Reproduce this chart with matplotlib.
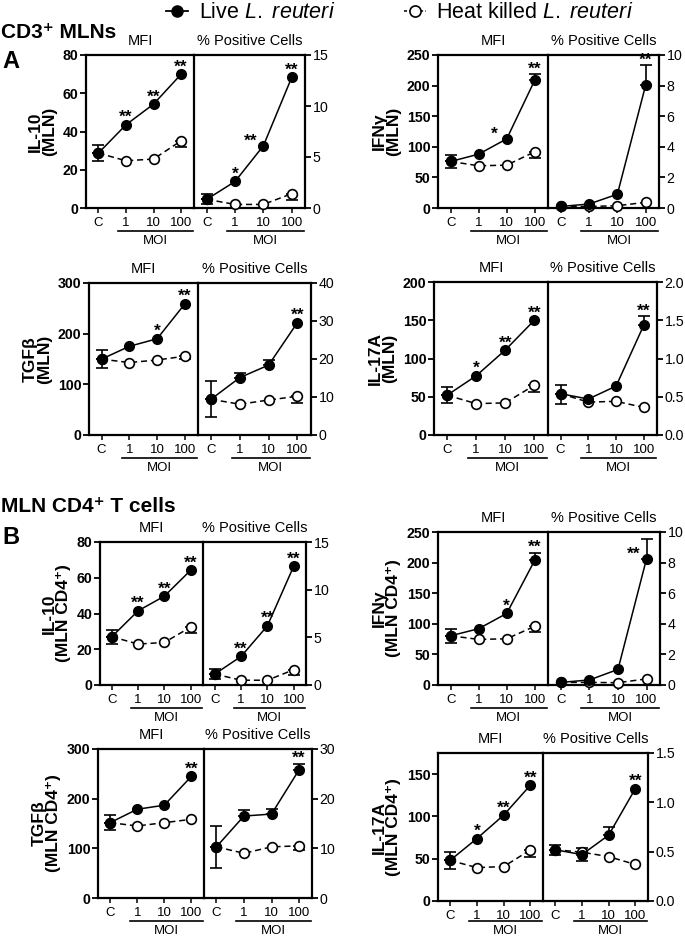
import numpy as np
import matplotlib
matplotlib.use("Agg")
import matplotlib.pyplot as plt
from matplotlib.lines import Line2D
from matplotlib.transforms import offset_copy

plt.rcParams['font.family'] = ['Liberation Sans', 'DejaVu Sans']
plt.rcParams['mathtext.fontset'] = 'custom'
plt.rcParams['mathtext.rm'] = 'Liberation Sans'
plt.rcParams['mathtext.it'] = 'Liberation Sans:italic'
plt.rcParams['mathtext.bf'] = 'Liberation Sans:bold'

doses = ["C", "1", "10", "100"]

# A : CD3+ MLN cells  (live / heat killed, upper err for live, lower err for heat killed)
a_il10_mfi = dict(live=[28.7, 43.5, 54.3, 69.9], hk=[28.7, 24.7, 25.6, 35.1],
                  up=[4, 0, 0, 0], down=[4, 0, 0, 3.4], stars=["", "**", "**", "**"])
a_il10_pct = dict(live=[0.85, 2.6, 6.1, 12.8], hk=[0.85, 0.35, 0.35, 1.4],
                  up=[0.55, 0, 0, 0], down=[0.5, 0, 0, 0.6], stars=["", "*", "**", "**"], left=[2])
a_ifng_mfi = dict(live=[76, 88, 113, 209], hk=[76, 69, 70, 92],
                  up=[10, 0, 0, 10], down=[10, 0, 0, 10], stars=["", "", "*", "**"], left=[2])
a_ifng_pct = dict(live=[0.1, 0.26, 0.9, 8.04], hk=[0.1, 0.1, 0.15, 0.37],
                  up=[0, 0, 0, 1.3], down=[0, 0, 0, 0], stars=["", "", "", "**"])
a_tgfb_mfi = dict(live=[149.7, 175, 190, 259], hk=[149.7, 143, 148, 155.6],
                  up=[18, 0, 0, 0], down=[18, 0, 0, 5], stars=["", "", "*", "**"])
a_tgfb_pct = dict(live=[9.4, 15.1, 18.4, 29.6], hk=[9.4, 8.1, 9.2, 10.2],
                  up=[4.8, 1.3, 1.3, 0], down=[4.6, 0, 0, 1.7], stars=["", "", "", "**"])
a_il17_mfi = dict(live=[52, 77.4, 111, 150], hk=[52, 41, 42, 65],
                  up=[10.5, 0, 0, 0], down=[10.5, 0, 0, 9.4], stars=["", "*", "**", "**"])
a_il17_pct = dict(live=[0.54, 0.47, 0.64, 1.44], hk=[0.54, 0.43, 0.44, 0.36],
                  up=[0.12, 0, 0, 0.11], down=[0.13, 0, 0, 0], stars=["", "", "", "**"])

# B : MLN CD4+ T cells
b_il10_mfi = dict(live=[27, 41.5, 49.7, 64.2], hk=[27, 22.9, 23.8, 32.4],
                  up=[4, 0, 0, 0], down=[4, 0, 0, 3.2], stars=["", "**", "**", "**"])
b_il10_pct = dict(live=[1.15, 3.0, 6.2, 12.45], hk=[1.15, 0.5, 0.5, 1.6],
                  up=[0.5, 0, 0, 0], down=[0.5, 0, 0, 0.55], stars=["", "**", "**", "**"])
b_ifng_mfi = dict(live=[80.4, 92, 117, 204], hk=[80.4, 74.5, 75.5, 96],
                  up=[11, 0, 0, 12], down=[11, 0, 0, 10], stars=["", "", "*", "**"])
b_ifng_pct = dict(live=[0.17, 0.33, 1.02, 8.26], hk=[0.17, 0.17, 0.15, 0.4],
                  up=[0, 0, 0, 1.25], down=[0, 0, 0, 0], stars=["", "", "", "**"], left=[3])
b_tgfb_mfi = dict(live=[151.7, 178.7, 186.8, 244.7], hk=[151.7, 145, 151.7, 158.4],
                  up=[15.5, 0, 0, 0], down=[15.5, 0, 0, 0], stars=["", "", "", "**"])
b_tgfb_pct = dict(live=[10.3, 16.5, 16.9, 25.8], hk=[10.3, 9.0, 10.3, 10.5],
                  up=[4.2, 1.2, 1.0, 1.2], down=[4.3, 0, 0, 0.8], stars=["", "", "", "**"])
b_il17_mfi = dict(live=[48, 73.8, 101.5, 137], hk=[48, 39.5, 40.7, 60.4],
                  up=[9.7, 0, 0, 0], down=[9.7, 0, 0, 7.9], stars=["", "*", "**", "**"])
b_il17_pct = dict(live=[0.52, 0.47, 0.667, 1.14], hk=[0.52, 0.495, 0.45, 0.37],
                  up=[0.05, 0.07, 0.08, 0], down=[0.05, 0.09, 0, 0], stars=["", "", "", "**"])

W, H = 685, 939
fig = plt.figure(figsize=(W / 100, H / 100), dpi=100)


def draw(ax, d):
    x = np.arange(4)
    live = np.array(d["live"])
    hk = np.array(d["hk"])
    up = np.array(d["up"])
    down = np.array(d["down"])
    m = down > 0
    ax.errorbar(x[m], hk[m], yerr=[down[m], np.zeros(m.sum())], fmt='none',
                ecolor='black', elinewidth=1.2, capsize=4.5, capthick=1.2, zorder=2)
    m = up > 0
    ax.errorbar(x[m], live[m], yerr=[np.zeros(m.sum()), up[m]], fmt='none',
                ecolor='black', elinewidth=1.2, capsize=4.5, capthick=1.2, zorder=2)
    ax.plot(x, hk, ls=(0, (4, 2.5)), color='black', lw=1.1, marker='o', ms=7,
            mfc='white', mec='black', mew=1.2, zorder=3, clip_on=False)
    ax.plot(x, live, ls='-', color='black', lw=1.1, marker='o', ms=7,
            mfc='black', mec='black', zorder=4, clip_on=False)
    for i, s in enumerate(d["stars"]):
        if not s:
            continue
        if i in d.get("left", []):
            ax.annotate(s, (x[i], live[i]), xytext=(-9, 0), textcoords='offset points',
                        ha='center', va='baseline', fontsize=12.5, fontweight='bold')
        else:
            ax.annotate(s, (x[i], live[i] + up[i]), xytext=(0, 2 if up[i] == 0 else 0.5),
                        textcoords='offset points', ha='center', va='baseline',
                        fontsize=12.5, fontweight='bold')


def pair(left, div, right, top, bottom, mfi, pct, ylab, lim1, ticks1, lim2, ticks2,
         line_off=23, moi_off=33):
    h = (bottom - top) / H
    ax1 = fig.add_axes([left / W, 1 - bottom / H, (div - left) / W, h])
    ax2 = fig.add_axes([div / W, 1 - bottom / H, (right - div) / W, h])
    ax2.patch.set_visible(False)
    draw(ax1, mfi)
    draw(ax2, pct)
    for ax, lim, ticks, ttl in ((ax1, lim1, ticks1, "MFI"), (ax2, lim2, ticks2, "% Positive Cells")):
        ax.set_xlim(-0.45, 3.47)
        ax.set_ylim(*lim)
        ax.set_yticks(ticks)
        ax.set_xticks(range(4))
        ax.set_xticklabels(doses, fontsize=9.5)
        for sp in ax.spines.values():
            sp.set_linewidth(1.6)
        ax.tick_params(axis='y', direction='out', length=4.5, width=1.3, labelsize=10.2, pad=1)
        ax.tick_params(axis='x', direction='out', length=3.5, width=1.1, pad=3)
        for lb in ax.get_yticklabels():
            lb.set_fontweight('bold')
        ax.set_title(ttl, fontsize=10.5, pad=7)
        tr = offset_copy(ax.get_xaxis_transform(), fig=fig, y=-line_off * 0.72, units='points')
        ax.plot([0.72, 3.42], [0, 0], transform=tr, color='black', lw=1.2, clip_on=False)
        tr2 = offset_copy(ax.get_xaxis_transform(), fig=fig, y=-moi_off * 0.72, units='points')
        ax.text(2.07, 0, "MOI", transform=tr2, ha='center', va='center', fontsize=9.5)
    ax2.spines['left'].set_visible(False)
    ax2.yaxis.tick_right()
    ax1.set_ylabel(ylab, fontsize=12.5, fontweight='bold', labelpad=4, linespacing=0.95)


pair(86, 194, 305, 55, 208, a_il10_mfi, a_il10_pct, "IL-10\n(MLN)",
     (0, 80), [0, 20, 40, 60, 80], (0, 15), [0, 5, 10, 15])
pair(438, 548, 659, 55, 208, a_ifng_mfi, a_ifng_pct, "IFNγ\n(MLN)",
     (0, 250), [0, 50, 100, 150, 200, 250], (0, 10), [0, 2, 4, 6, 8, 10])
pair(89, 198, 311, 283, 435, a_tgfb_mfi, a_tgfb_pct, "TGFβ\n(MLN)",
     (0, 300), [0, 100, 200, 300], (0, 40), [0, 10, 20, 30, 40])
pair(434, 548, 657, 282, 435, a_il17_mfi, a_il17_pct, "IL-17A\n(MLN)",
     (0, 200), [0, 50, 100, 150, 200], (0, 2.0), [0.0, 0.5, 1.0, 1.5, 2.0])
pair(100, 203, 306, 542, 685, b_il10_mfi, b_il10_pct, "IL-10\n(MLN CD4⁺)",
     (0, 80), [0, 20, 40, 60, 80], (0, 15), [0, 5, 10, 15])
pair(438, 548, 660, 532, 685, b_ifng_mfi, b_ifng_pct, "IFNγ\n(MLN CD4⁺)",
     (0, 250), [0, 50, 100, 150, 200, 250], (0, 10), [0, 2, 4, 6, 8, 10])
pair(98, 204, 312, 749, 898, b_tgfb_mfi, b_tgfb_pct, "TGFβ\n(MLN CD4⁺)",
     (0, 300), [0, 100, 200, 300], (0, 30), [0, 10, 20, 30])
pair(438, 543, 648, 753, 901, b_il17_mfi, b_il17_pct, "IL-17A\n(MLN CD4⁺)",
     (0, 175), [0, 50, 100, 150], (0, 1.5), [0.0, 0.5, 1.0, 1.5], line_off=20, moi_off=30)

# headers
fig.text(1 / W, 1 - 33 / H, "CD3⁺ MLNs", fontsize=15, fontweight='bold', va='center')
fig.text(2 / W, 1 - 62 / H, "A", fontsize=17, fontweight='bold', va='center')
fig.text(1 / W, 1 - 507 / H, "MLN CD4⁺ T cells", fontsize=15, fontweight='bold', va='center')
fig.text(2 / W, 1 - 537 / H, "B", fontsize=17, fontweight='bold', va='center')

handles = [Line2D([], [], color='black', lw=1.3, marker='o', ms=8, mfc='black'),
           Line2D([], [], color='black', lw=1.1, ls=(0, (2, 1.5)), marker='o', ms=8,
                  mfc='white', mew=1.2)]
labels = [r"Live $\mathit{L.\ reuteri}$", r"Heat killed $\mathit{L.\ reuteri}$"]
fig.legend(handles, labels, loc='center', bbox_to_anchor=(400 / W, 1 - 13 / H), ncol=2,
           frameon=False, fontsize=15.5, handlelength=1.0, handletextpad=0.5,
           columnspacing=3.2, borderpad=0)

fig.savefig("out.png", dpi=100)
